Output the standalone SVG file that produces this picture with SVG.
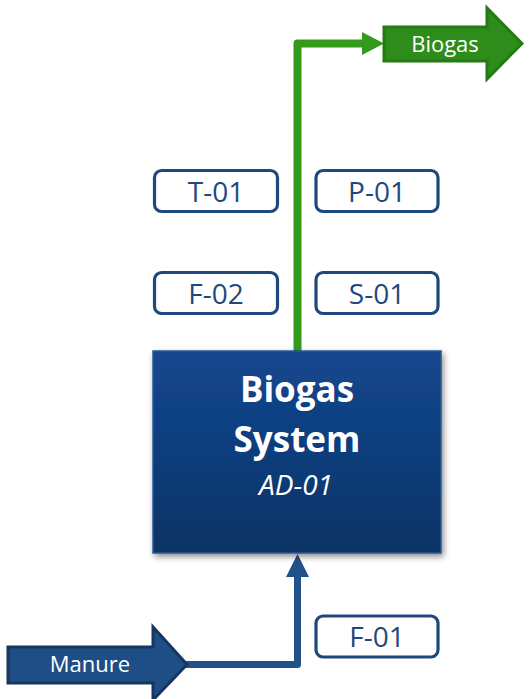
<svg xmlns="http://www.w3.org/2000/svg" width="529" height="699" viewBox="0 0 529 699">
<defs>
<linearGradient id="boxGrad" x1="0" y1="0" x2="0" y2="1">
<stop offset="0" stop-color="#134790"/>
<stop offset="1" stop-color="#0c3366"/>
</linearGradient>
<filter id="shadow" x="-10%" y="-10%" width="125%" height="125%">
<feGaussianBlur in="SourceAlpha" stdDeviation="3"/>
<feOffset dx="2" dy="3" result="b"/>
<feComponentTransfer><feFuncA type="linear" slope="0.45"/></feComponentTransfer>
<feMerge><feMergeNode/><feMergeNode in="SourceGraphic"/></feMerge>
</filter>
</defs>
<style>
.tag rect{fill:#ffffff;stroke:#1f497d;stroke-width:3.2}
.tag text{font-family:"Open Sans","Noto Sans",sans-serif;font-size:28px;fill:#1f497d;text-anchor:middle}
.lbl{font-family:"Open Sans","Noto Sans",sans-serif;font-size:22px;fill:#ffffff;text-anchor:middle}
.title{font-family:"Open Sans","Noto Sans",sans-serif;font-weight:bold;font-size:35px;fill:#ffffff;text-anchor:middle}
.sub{font-family:"Open Sans","Noto Sans",sans-serif;font-style:italic;font-size:28px;fill:#ffffff;text-anchor:middle}
</style>
<g id="connectors">
<path d="M297.5,351 V43.5 H363" fill="none" stroke="#349a1c" stroke-width="8" stroke-linejoin="round"/>
<polygon points="362,32 384,43.5 362,55" fill="#349a1c"/>
<path d="M186,664.5 H297.5 V575" fill="none" stroke="#21508a" stroke-width="7" stroke-linejoin="round"/>
<polygon points="286,577 297.5,554 309,577" fill="#21508a"/>
</g>
<g id="biogas-system">
<rect x="153" y="351" width="288" height="202" fill="url(#boxGrad)" stroke="#2a5896" stroke-width="1.5" filter="url(#shadow)"/>
<text class="title" x="297" y="402">Biogas</text>
<text class="title" x="297" y="452">System</text>
<text class="sub" x="296" y="495">AD-01</text>
</g>
<g id="biogas-out">
<polygon points="384,27 487,27 487,8 522,43.5 487,79 487,61 384,61" fill="#2e8c1a" stroke="#267a14" stroke-width="3" stroke-linejoin="miter"/>
<text class="lbl" x="445" y="52">Biogas</text>
</g>
<g id="manure-in">
<polygon points="8,647 153,647 153,627 187,664.5 153,700 153,683 8,683" fill="#1f4e86" stroke="#16365f" stroke-width="3"/>
<text class="lbl" x="90" y="672">Manure</text>
</g>
<g id="T-01" class="tag"><rect x="154.5" y="170.5" width="123" height="41" rx="7"/><text x="216" y="202">T-01</text></g>
<g id="P-01" class="tag"><rect x="316" y="170.5" width="122" height="41" rx="7"/><text x="377" y="202">P-01</text></g>
<g id="F-02" class="tag"><rect x="154.5" y="272.5" width="123" height="41" rx="7"/><text x="216" y="304">F-02</text></g>
<g id="S-01" class="tag"><rect x="316" y="272.5" width="122" height="41" rx="7"/><text x="377" y="304">S-01</text></g>
<g id="F-01" class="tag"><rect x="316" y="616" width="122" height="41" rx="7"/><text x="377" y="647">F-01</text></g>
</svg>
